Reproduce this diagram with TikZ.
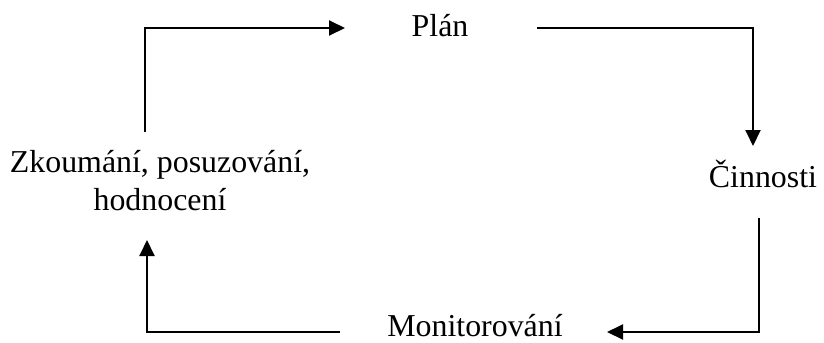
\documentclass[tikz,border=0pt]{standalone}
\usepackage{fontspec}
\setmainfont{Liberation Serif}
\usetikzlibrary{arrows.meta}
\begin{document}
\begin{tikzpicture}[x=1bp,y=-1bp,
  lbl/.style={inner sep=0pt,font=\fontsize{32}{38}\selectfont,align=center},
  conn/.style={line width=2bp,-{Triangle[length=16bp,width=15bp]}}]
\useasboundingbox (0,0) rectangle (824,342);
\node[lbl,anchor=base] (plan) at (440,36) {Plán};
\node[lbl,anchor=base] (cin) at (763,187) {Činnosti};
\node[lbl,anchor=base] (mon) at (475,336) {Monitorování};
\node[lbl,anchor=base] (zk) at (160,210) {Zkoumání, posuzování,\\hodnocení};
\coordinate (a1) at (145,132);
\coordinate (a2) at (345,28);
\coordinate (b1) at (537,28);
\coordinate (b2) at (753,146);
\coordinate (c1) at (759,218);
\coordinate (c2) at (607,332);
\coordinate (d1) at (340,332);
\coordinate (d2) at (147,240);
\draw[conn] (a1) |- (a2);
\draw[conn] (b1) -| (b2);
\draw[conn] (c1) |- (c2);
\draw[conn] (d1) -| (d2);
\end{tikzpicture}
\end{document}
